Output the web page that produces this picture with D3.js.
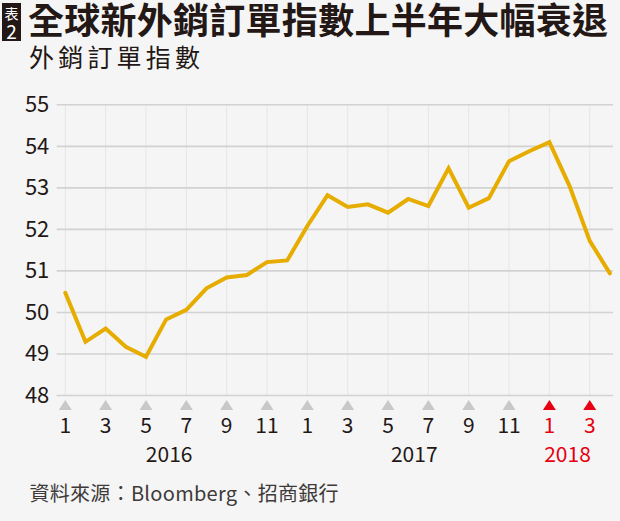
<!DOCTYPE html>
<html>
<head>
<meta charset="utf-8">
<script src="https://cdn.jsdelivr.net/npm/d3@7"></script>
<style>
  body { margin: 0; background: #f5f5f5; }
  svg { display: block; }
</style>
</head>
<body>
<div id="content"></div>
<script>
(function(d3) {

   // monthly index, Jan 2016 .. Apr 2018
   var months = [1,2,3,4,5,6,7,8,9,10,11,12, 1,2,3,4,5,6,7,8,9,10,11,12, 1,2,3,4];
   var years  = [2016,2016,2016,2016,2016,2016,2016,2016,2016,2016,2016,2016,
                 2017,2017,2017,2017,2017,2017,2017,2017,2017,2017,2017,2017,
                 2018,2018,2018,2018];
   var values = [50.46, 49.28, 49.6, 49.16, 48.92, 49.82, 50.05, 50.57, 50.83, 50.89, 51.2, 51.24,
                 52.07, 52.81, 52.53, 52.59, 52.39, 52.72, 52.55, 53.46, 52.51, 52.74, 53.63, 53.87,
                 54.09, 53.03, 51.71, 50.93];
   var yTicks = [48, 49, 50, 51, 52, 53, 54, 55];
   var yearLabels = [{year: "2016", at: 5.15}, {year: "2017", at: 17.3}, {year: "2018", at: 24.9}];

   var title = "全球新外銷訂單指數上半年大幅衰退";
   var subtitle = "外銷訂單指數";
   var source = "資料來源：Bloomberg、招商銀行";

   var win_width = 620;
   var win_height = 521;
   var ink = "#231815";
   var red = "#e60012";
   var cjkFont = "'Noto Sans CJK TC', 'Noto Sans CJK SC', sans-serif";
   var numFont = cjkFont;

   var svg = d3.select("#content")
            .append("svg")
            .attr("width", win_width)
            .attr("height", win_height);

   svg.append("rect").attr("width", win_width).attr("height", win_height).attr("fill", "#f5f5f5");

   var idx = d3.range(values.length);
   var x = d3.scaleLinear().domain([0, values.length - 1]).range([65.3, 609.9]);
   var y = d3.scaleLinear().domain([48, 55]).range([395, 104.3]);

   var plotLeft = 56.7, plotRight = 613;

   // vertical grid every second month
   svg.append("g").selectAll("line")
      .data(idx.filter(function(i) { return i % 2 === 0; }))
      .enter().append("line")
      .attr("x1", function(i) { return x(i); })
      .attr("x2", function(i) { return x(i); })
      .attr("y1", y(55)).attr("y2", y(48))
      .attr("stroke", "#e6e6e6").attr("stroke-width", 1);

   // horizontal grid + labels via axis
   var yAxis = d3.axisLeft(y).tickValues(yTicks).tickFormat(d3.format("d"))
      .tickSize(-(plotRight - plotLeft)).tickPadding(8);
   var gy = svg.append("g").attr("transform", "translate(" + plotLeft + ",0)").call(yAxis);
   gy.select(".domain").remove();
   gy.selectAll(".tick line").attr("stroke", "#d2d2d2").attr("stroke-width", 1.6);
   gy.selectAll(".tick text")
     .attr("fill", ink)
     .attr("font-family", numFont)
     .attr("font-size", 22)
     .attr("x", 49.3 - plotLeft)
     .attr("dy", "0.33em");

   // x axis markers and month labels
   var tickIdx = idx.filter(function(i) { return i % 2 === 0; });
   var gx = svg.append("g");
   gx.selectAll("path")
     .data(tickIdx)
     .enter().append("path")
     .attr("d", function(i) {
        var cx = x(i);
        return "M" + (cx - 6.5) + ",410 L" + (cx + 6.5) + ",410 L" + cx + ",400 Z";
     })
     .attr("fill", function(i) { return years[i] === 2018 ? red : "#c8c8c8"; });

   gx.selectAll("text")
     .data(tickIdx)
     .enter().append("text")
     .attr("x", function(i) { return x(i); })
     .attr("y", 432.5)
     .attr("text-anchor", "middle")
     .attr("font-family", numFont)
     .attr("font-size", 21)
     .attr("fill", function(i) { return years[i] === 2018 ? red : ink; })
     .text(function(i) { return months[i]; });

   svg.append("g").selectAll("text")
     .data(yearLabels)
     .enter().append("text")
     .attr("x", function(d) { return x(d.at); })
     .attr("y", 461.5)
     .attr("text-anchor", "middle")
     .attr("font-family", numFont)
     .attr("font-size", 21)
     .attr("fill", function(d) { return d.year === "2018" ? red : ink; })
     .text(function(d) { return d.year; });

   // the line
   var line = d3.line()
      .x(function(d, i) { return x(i); })
      .y(function(d) { return y(d); });

   svg.append("path")
      .datum(values)
      .attr("d", line)
      .attr("fill", "none")
      .attr("stroke", "#e6ad00")
      .attr("stroke-width", 4)
      .attr("stroke-linejoin", "miter")
      .attr("stroke-linecap", "round");

   // title block
   svg.append("rect").attr("x", 2).attr("y", 3).attr("width", 19).attr("height", 38).attr("fill", ink);
   svg.append("text").attr("x", 11.5).attr("y", 19).attr("text-anchor", "middle")
      .attr("font-family", cjkFont).attr("font-size", 14).attr("fill", "#fff").text("表");
   svg.append("text").attr("x", 11.5).attr("y", 38.5).attr("text-anchor", "middle")
      .attr("font-family", numFont).attr("font-size", 19).attr("fill", "#fff").text("2");

   svg.append("text").attr("x", 28).attr("y", 34)
      .attr("font-family", cjkFont).attr("font-size", 36).attr("font-weight", 700)
      .attr("textLength", 580).attr("lengthAdjust", "spacing")
      .attr("fill", ink).text(title);

   svg.append("text").attr("x", 29).attr("y", 67)
      .attr("font-family", cjkFont).attr("font-size", 25)
      .attr("textLength", 171).attr("lengthAdjust", "spacing")
      .attr("fill", ink).text(subtitle);

   svg.append("text").attr("x", 29.5).attr("y", 501)
      .attr("font-family", cjkFont).attr("font-size", 20)
      .attr("textLength", 309).attr("lengthAdjust", "spacing")
      .attr("fill", "#3e3a39").text(source);

})(window.d3);
</script>
</body>
</html>
